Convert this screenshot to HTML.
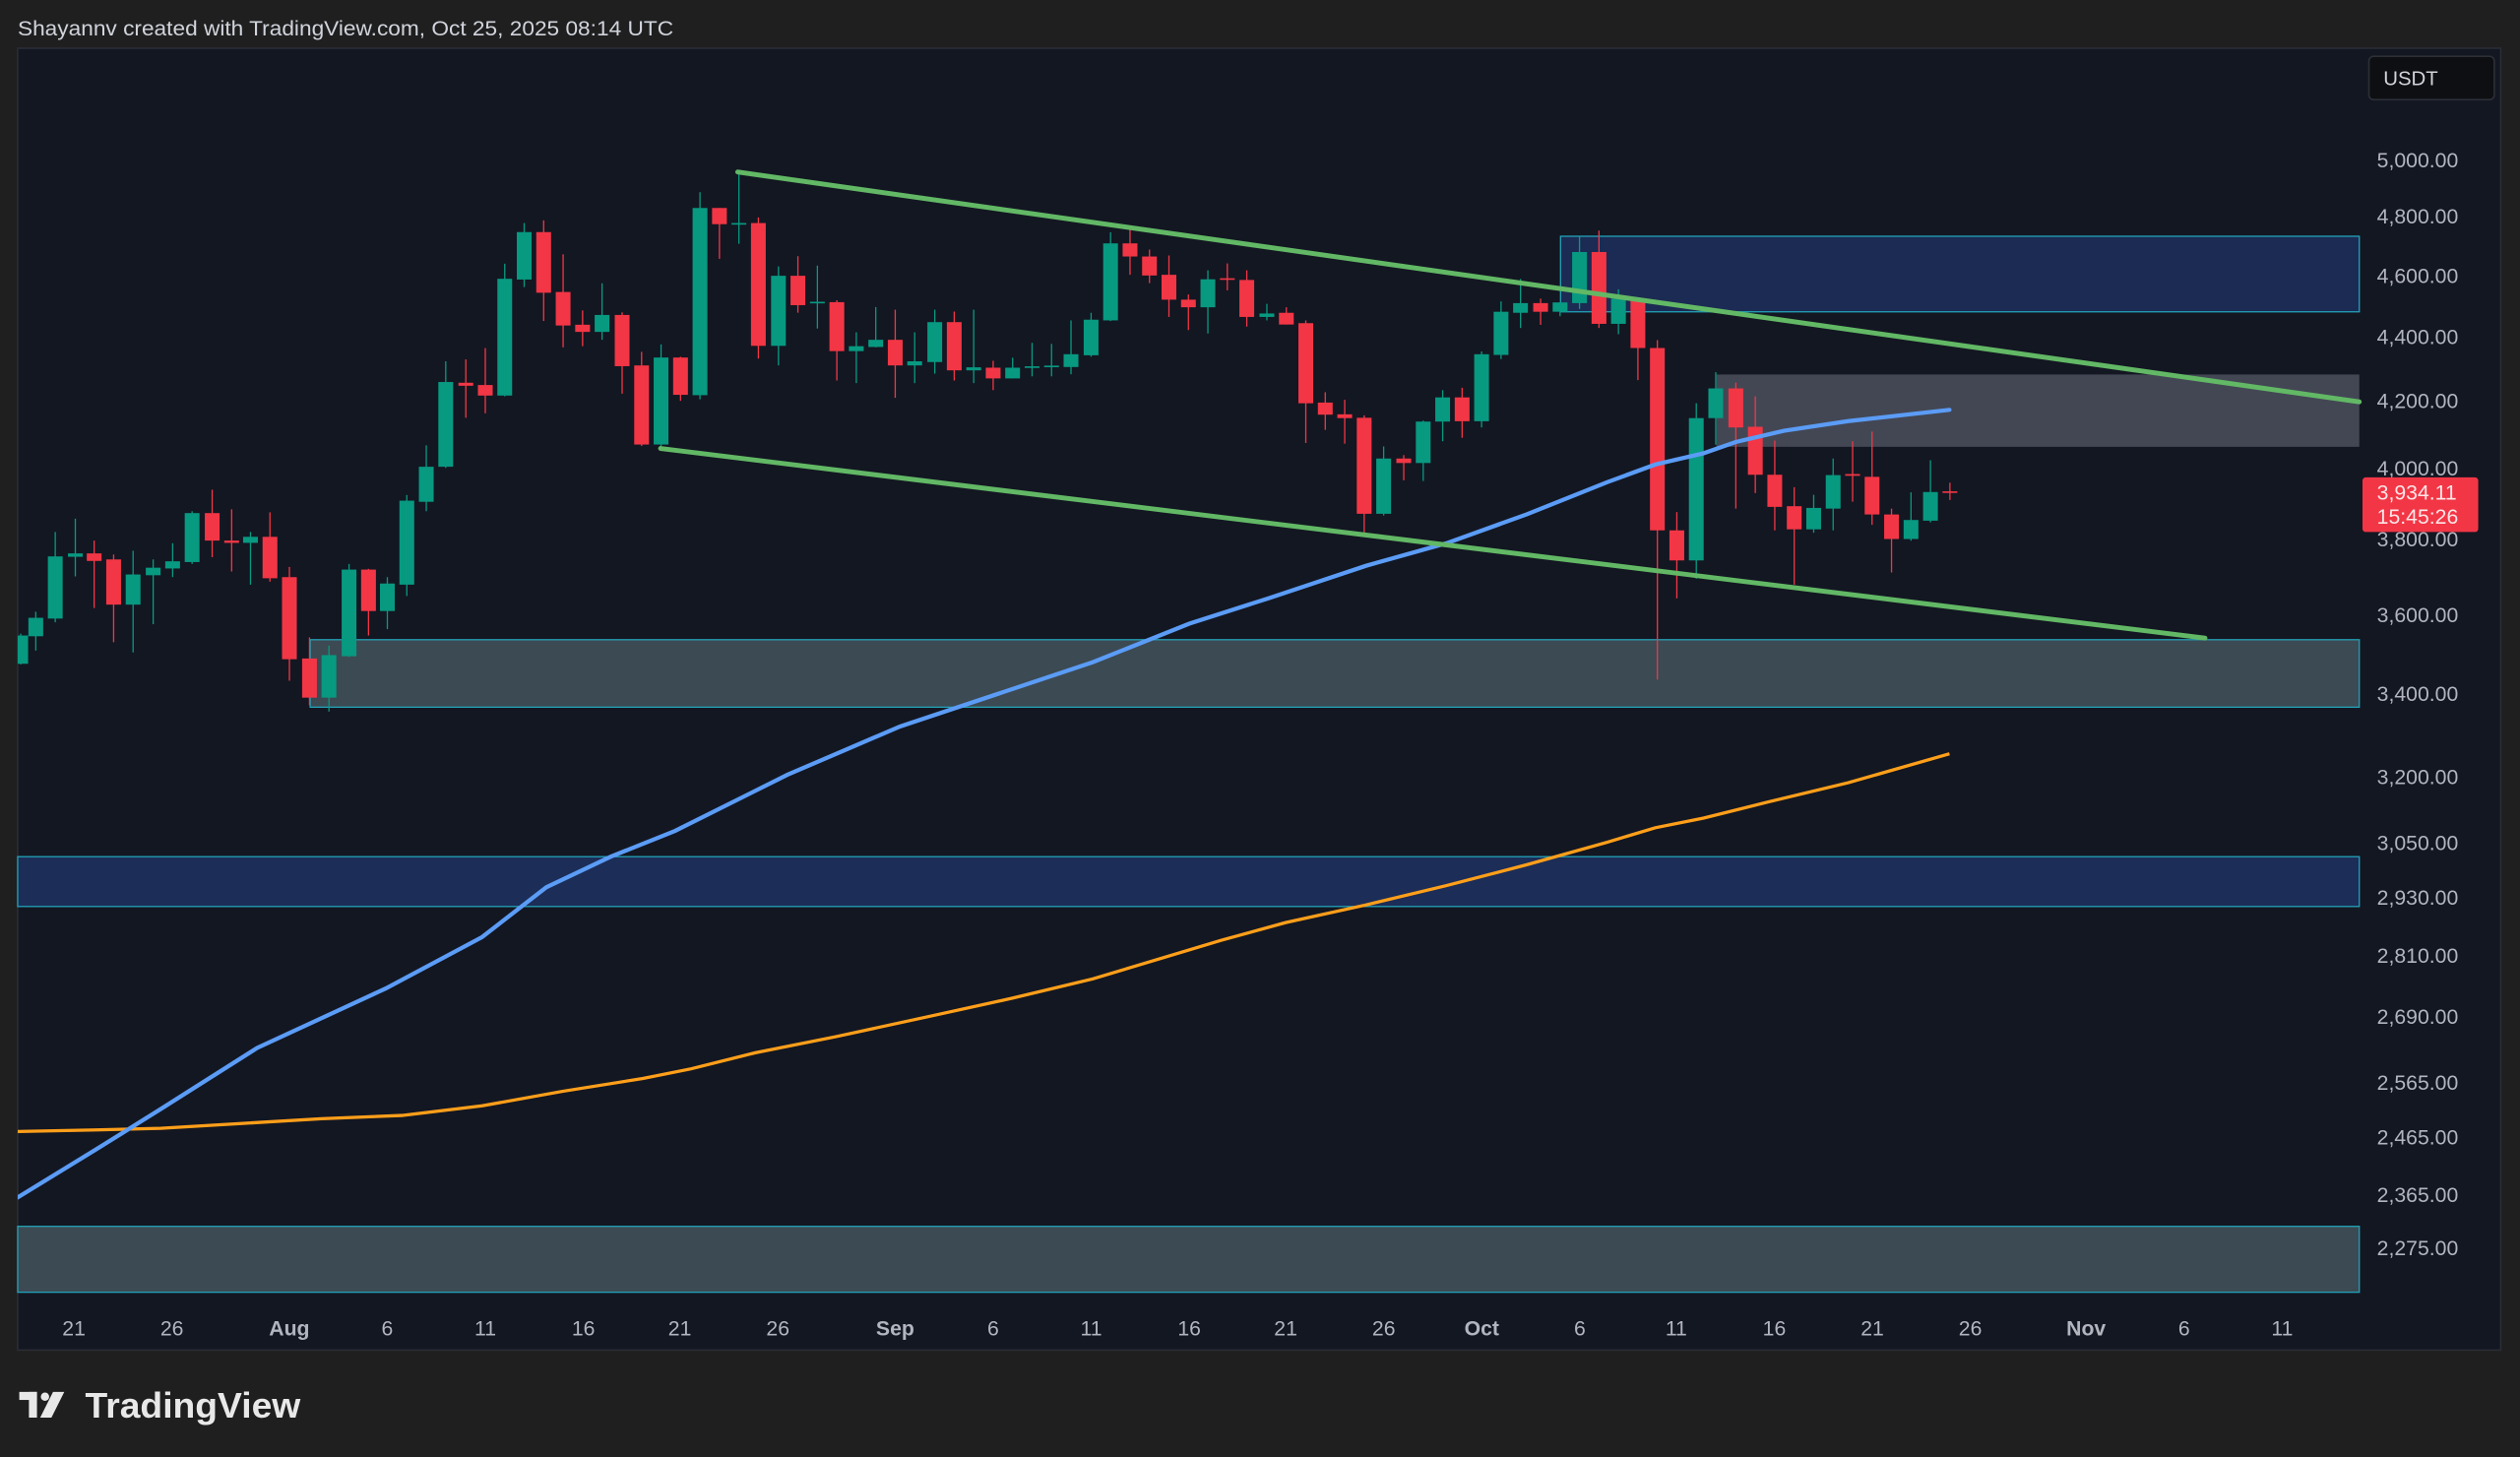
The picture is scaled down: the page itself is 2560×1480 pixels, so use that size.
<!DOCTYPE html>
<html><head><meta charset="utf-8"><style>
html,body{margin:0;padding:0;background:#1f1f1f;overflow:hidden}
svg{display:block}
text{font-family:"Liberation Sans",sans-serif}
</style></head><body>
<svg id="s" width="2560" height="1480" viewBox="0 0 1568 906.5" preserveAspectRatio="none" xmlns="http://www.w3.org/2000/svg">
<defs><clipPath id="pc"><rect x="11" y="30" width="1459" height="810"/></clipPath></defs>
<rect x="0" y="0" width="1568" height="906.5" fill="#1f1f1f"/>
<text x="11" y="22" font-size="13" fill="#d1d4dc" textLength="408" lengthAdjust="spacingAndGlyphs">Shayannv created with TradingView.com, Oct 25, 2025 08:14 UTC</text>
<rect x="11" y="30" width="1545" height="810" fill="#131722" stroke="#2a2d35" stroke-width="1"/>
<rect x="971" y="147" width="497" height="47" fill="#1c2b53" stroke="#22a2b8" stroke-width="0.8"/>
<rect x="1068" y="233" width="400" height="45" fill="#434754"/>
<rect x="193" y="398" width="1275" height="42" fill="#3c4a54" stroke="#22a2b8" stroke-width="0.8"/>
<rect x="11" y="533" width="1457" height="31" fill="#1c2d57" stroke="#22a2b8" stroke-width="0.8"/>
<rect x="11" y="763" width="1457" height="41" fill="#3c4a54" stroke="#22a2b8" stroke-width="0.8"/>
<g clip-path="url(#pc)">
<g id="candles"></g>
<polyline fill="none" stroke="#ff9f1a" stroke-width="2" points="11,704 60,703 100,702 150,699 200,696 250,694 300,688 350,679 400,671 430,665 470,655 520,645 580,632 630,621 680,609 720,597 760,585 800,574 850,563 900,551 950,538 1000,524 1030,515 1060,509 1100,499 1150,487 1213,469"/>
<polyline fill="none" stroke="#5b9cf6" stroke-width="2.6" stroke-linecap="round" points="11,745 60,715 100,690 160,652 240,615 300,583 340,552 380,533 420,517 490,482 560,452 620,432 680,412 740,388 790,372 850,352 900,338 950,320 1000,300 1030,289 1060,282 1080,275 1110,268 1150,262 1213,255"/>
<line x1="459" y1="107" x2="1468" y2="250" stroke="#62b865" stroke-width="3" stroke-linecap="round"/>
<line x1="411" y1="279" x2="1372" y2="397" stroke="#62b865" stroke-width="3" stroke-linecap="round"/>
</g>
<rect x="1470" y="31" width="85" height="808" fill="#131722"/>
<rect x="1474" y="35" width="78" height="27" rx="3" fill="#0e0f12" stroke="#2c2f36"/>
<text x="1483" y="53" font-size="12.5" fill="#d1d4dc">USDT</text>
<g font-size="13" fill="#b2b5be">
<text x="1479" y="104">5,000.00</text>
<text x="1479" y="139">4,800.00</text>
<text x="1479" y="176">4,600.00</text>
<text x="1479" y="214">4,400.00</text>
<text x="1479" y="254">4,200.00</text>
<text x="1479" y="296">4,000.00</text>
<text x="1479" y="340">3,800.00</text>
<text x="1479" y="387">3,600.00</text>
<text x="1479" y="436">3,400.00</text>
<text x="1479" y="488">3,200.00</text>
<text x="1479" y="529">3,050.00</text>
<text x="1479" y="563">2,930.00</text>
<text x="1479" y="599">2,810.00</text>
<text x="1479" y="637">2,690.00</text>
<text x="1479" y="678">2,565.00</text>
<text x="1479" y="712">2,465.00</text>
<text x="1479" y="748">2,365.00</text>
<text x="1479" y="781">2,275.00</text>
</g>
<rect x="1470" y="297" width="72" height="34" rx="2" fill="#f23645"/>
<text x="1479" y="311" font-size="13" fill="#ffe5e7">3,934.11</text>
<text x="1479" y="326" font-size="13" fill="#ffe5e7">15:45:26</text>
<g font-size="13" fill="#b2b5be" text-anchor="middle">
<text x="46" y="831">21</text><text x="107" y="831">26</text><text x="180" y="831" font-weight="bold">Aug</text>
<text x="241" y="831">6</text><text x="302" y="831">11</text><text x="363" y="831">16</text><text x="423" y="831">21</text><text x="484" y="831">26</text>
<text x="557" y="831" font-weight="bold">Sep</text><text x="618" y="831">6</text><text x="679" y="831">11</text><text x="740" y="831">16</text><text x="800" y="831">21</text><text x="861" y="831">26</text>
<text x="922" y="831" font-weight="bold">Oct</text><text x="983" y="831">6</text><text x="1043" y="831">11</text><text x="1104" y="831">16</text><text x="1165" y="831">21</text><text x="1226" y="831">26</text>
<text x="1298" y="831" font-weight="bold">Nov</text><text x="1359" y="831">6</text><text x="1420" y="831">11</text>
</g>
<g fill="#e8e8e8">
<rect x="12" y="866" width="11" height="5"/><rect x="18" y="866" width="5" height="16"/>
<circle cx="28" cy="869" r="2.6"/>
<polygon points="33,866 40,866 32,882 25,882"/>
</g>
<text x="53" y="882" font-size="22" font-weight="bold" fill="#e8e8e8" textLength="134" lengthAdjust="spacingAndGlyphs">TradingView</text>
</svg>
<script>
var z3=[[33,1295,1370,1290,1372,'g'],[57,1248,1297,1232,1335,'g'],[88,1085,1250,1020,1260,'g'],[120,1077,1086,985,1138,'g'],[150,1077,1097,1043,1222,'r'],[181,1093,1213,1080,1313,'r'],[212,1133,1213,1070,1340,'g'],[244,1115,1135,1093,1265,'g'],[275,1098,1117,1050,1140,'g'],[306,970,1100,965,1105,'g'],[338,970,1043,908,1087,'r'],[369,1043,1049,960,1125,'r'],[399,1033,1049,1020,1160,'g'],[430,1033,1143,968,1152,'r'],[461,1140,1358,1113,1415,'r'],[493,1356,1460,1300,1480,'r'],[524,1347,1460,1322,1497,'g'],[556,1120,1350,1105,1352,'g'],[587,1120,1230,1118,1295,'r'],[617,1157,1230,1140,1278,'g'],[648,937,1160,922,1190,'g'],[679,847,940,790,965,'g'],[710,622,847,567,850,'g'],[742,624,632,562,717,'r'],[773,630,658,532,705,'r'],[804,348,658,308,660,'g'],[835,224,350,200,370,'g'],[866,224,385,193,460,'r'],[897,383,472,283,530,'r'],[928,470,489,432,527,'r'],[959,444,489,360,510,'g'],[991,444,580,437,653,'r'],[1022,578,788,542,792,'r'],[1053,557,788,522,805,'g'],[1084,557,656,555,672,'r'],[1115,160,657,118,668,'g'],[1146,160,203,160,295,'r'],[1177,200,203,60,255,'g'],[1208,200,526,185,560,'r'],[1240,340,526,315,578,'g'],[1271,340,418,288,438,'r'],[1302,409,413,313,480,'g'],[1333,410,540,405,618,'r'],[1364,527,540,490,625,'g'],[1395,510,529,423,530,'g'],[1426,510,578,430,664,'r'],[1457,567,578,490,625,'g'],[1489,463,569,430,600,'g'],[1520,463,591,435,618,'r'],[1551,583,591,430,625,'g']];
var z4=[[14,637,668,617,702,'r'],[45,637,668,608,668,'g'],[76,633,637,565,662,'g'],[107,631,635,568,662,'g'],[138,598,635,500,656,'g'],[170,498,601,478,605,'g'],[201,277,500,245,502,'g'],[232,277,315,228,368,'r'],[263,315,370,295,392,'r'],[294,368,440,312,490,'r'],[325,440,462,425,528,'r'],[356,381,462,355,538,'g'],[387,378,382,335,413,'r'],[418,383,490,355,518,'r'],[450,480,490,452,500,'g'],[481,478,512,462,512,'r'],[512,508,740,500,855,'r'],[543,738,773,708,817,'r'],[574,772,783,730,857,'r'],[605,782,1060,775,1120,'r'],[636,900,1060,865,1065,'g'],[668,900,913,890,963,'r'],[699,793,913,790,965,'g'],[730,723,793,702,850,'g'],[761,723,792,695,840,'r'],[792,598,792,590,810,'g'],[823,475,600,445,612,'g'],[854,450,478,380,522,'g'],[886,450,475,437,513,'r'],[917,448,475,448,488,'g'],[948,302,450,258,467,'g'],[979,302,510,240,522,'r'],[1010,437,510,410,540,'g'],[1041,437,580,433,673,'r'],[1072,580,1108,557,1540,'r'],[1103,1108,1195,1055,1305,'r'],[1134,783,1195,740,1248,'g'],[1165,697,783,650,860,'g'],[1197,697,810,680,1045,'r'],[1228,808,947,720,1000,'r'],[1259,947,1040,848,1108,'r'],[1290,1038,1105,983,1265,'r'],[1321,1043,1105,1005,1115,'g'],[1352,948,1045,900,1108,'g'],[1383,945,950,850,1025,'r'],[1414,953,1062,822,1092,'r'],[1445,1062,1133,1045,1230,'r'],[1476,1078,1133,998,1138,'g'],[1507,997,1080,905,1085,'g'],[1538,995,998,970,1020,'r']];
var out='';
function add(c,ox,oy,fy){
 var x=ox+c[0]/2.56,t=oy+c[1]/fy,b=oy+c[2]/fy,h=oy+c[3]/fy,l=oy+c[4]/fy;
 var col=c[5]=='g'?'#089981':'#f23645';
 out+='<line x1="'+x+'" y1="'+h+'" x2="'+x+'" y2="'+l+'" stroke="'+col+'" stroke-width="0.8"/>';
 var bh=Math.max(b-t,1);
 out+='<rect x="'+(x-4.6)+'" y="'+t+'" width="9.2" height="'+bh+'" fill="'+col+'"/>';
}
z3.forEach(function(c){add(c,0,91.9,4.267)});
z4.forEach(function(c){add(c,612.5,91.9,4.654)});
document.getElementById('candles').innerHTML=out;
</script>
</body></html>
